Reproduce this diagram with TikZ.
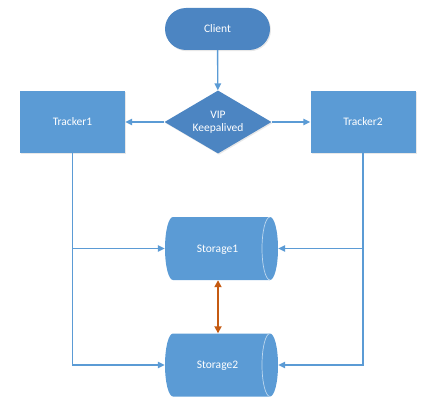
\documentclass[tikz,border=0pt]{standalone}
\usepackage{fontspec}
\setmainfont{Carlito}
\usetikzlibrary{shapes.geometric,arrows.meta,shadows}
\definecolor{boxblue}{HTML}{5B9BD5}
\definecolor{darkblue}{HTML}{4C85C2}
\definecolor{lineblue}{HTML}{5B9BD5}
\definecolor{orng}{HTML}{C55A11}
\tikzset{
  x=1pt, y=1pt,
  every node/.style={font=\fontsize{11.5}{13.5}\selectfont, text=white, inner sep=0pt},
  shad/.style={drop shadow={opacity=0.18, shadow xshift=1pt, shadow yshift=-1.2pt}},
  terminal/.style={rectangle, rounded corners=21pt, fill=darkblue, minimum width=105pt, minimum height=42pt, shad},
  decision/.style={diamond, aspect=1.7, fill=darkblue, minimum width=107pt, minimum height=63pt, align=center, shad},
  tracker/.style={rectangle, fill=boxblue, minimum width=105pt, minimum height=62pt, shad},
  storage/.style={rectangle, minimum width=113pt, minimum height=63pt, text depth=0pt,
    path picture={
      \fill[boxblue] ([xshift=8pt]path picture bounding box.north west) -- ([xshift=-8pt]path picture bounding box.north east)
        arc[start angle=90,end angle=-90,x radius=8pt,y radius=31.5pt]
        -- ([xshift=8pt]path picture bounding box.south west)
        arc[start angle=270,end angle=90,x radius=8pt,y radius=31.5pt] -- cycle;
      \draw[white!60!boxblue, line width=0.7pt] ([xshift=-8pt]path picture bounding box.north east)
        arc[start angle=90,end angle=270,x radius=8pt,y radius=31.5pt];
    }},
  conn/.style={draw=lineblue, line width=1.4pt, -{Triangle[length=7pt,width=6.5pt]}},
  plain/.style={draw=lineblue, line width=1.4pt},
  dbl/.style={draw=orng, line width=1.7pt, {Triangle[length=7pt,width=7pt]}-{Triangle[length=7pt,width=7pt]}}
}
\begin{document}
\begin{tikzpicture}
\useasboundingbox (0,0) rectangle (433,405);
\node[terminal] (client) at (217.5,376) {Client};
\node[decision] (vip) at (218,283) {VIP\\Keepalived};
\node[tracker] (t1) at (72.5,283) {Tracker1};
\node[tracker] (t2) at (363,283) {Tracker2};
\node[storage] (s1) at (221.5,156.5) {\hspace*{-8pt}Storage1};
\node[storage] (s2) at (221.5,40) {\hspace*{-8pt}Storage2};
\coordinate (j1) at (t1.south |- s1.west);
\coordinate (j2) at (t2.south |- s1.east);
\draw[conn] (client) -- (vip);
\draw[conn] (vip) -- (t1);
\draw[conn] (vip) -- (t2);
\draw[plain] (t1.south) -- (j1);
\draw[conn] (j1) -- (s1.west);
\draw[conn] (j1) |- (s2.west);
\draw[plain] (t2.south) -- (j2);
\draw[conn] (j2) -- (s1.east);
\draw[conn] (j2) |- (s2.east);
\draw[dbl] (s1.south -| 218,0) -- (s2.north -| 218,0);
\end{tikzpicture}
\end{document}
